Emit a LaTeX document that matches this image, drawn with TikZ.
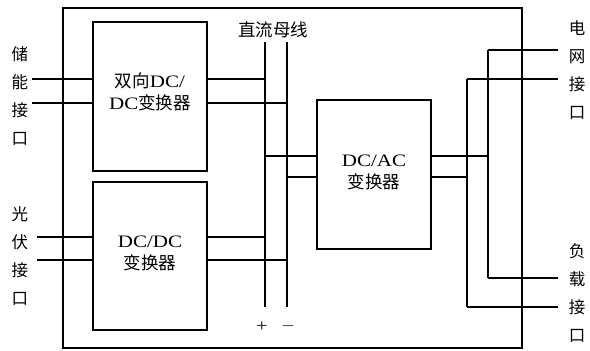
\documentclass[tikz,border=0pt]{standalone}
\usepackage{fontspec}
\setmainfont{Liberation Serif}[FakeStretch=1.2]
\newfontfamily\cjk{Noto Sans CJK SC}
\begin{document}
\begin{tikzpicture}[x=1pt,y=-1pt,line width=1.1pt,
  blk/.style={draw,inner sep=0pt,minimum width=114pt},
  txt/.style={align=center,inner sep=0pt,font=\fontsize{17.5}{22}\selectfont},
  side/.style={align=center,inner sep=0pt,font=\cjk\fontsize{16.5}{27.7}\selectfont},
  pm/.style={inner sep=0pt,font=\fontsize{17}{17}\selectfont}]
\useasboundingbox (0,0) rectangle (590,351);
% outer frame
\node[draw,inner sep=0pt,minimum width=459pt,minimum height=340pt] (outer) at (292.5,178) {};
% converter boxes
\node[blk,minimum height=149pt] (b1) at (150,96.5) {};
\node[blk,minimum height=148pt] (b2) at (150,256) {};
\node[blk,minimum height=149pt] (b3) at (374,174.5) {};
\node[txt] (t1) at (150,92) {{\cjk 双向}DC/\\DC{\cjk 变换器}};
\node[txt] (t2) at (150,253) {DC/DC\\{\cjk 变换器}};
\node[txt] (t3) at (374,172) {DC/AC\\{\cjk 变换器}};
% DC bus
\coordinate (pT) at (265,42); \coordinate (pB) at (265,307);
\coordinate (mT) at (287,42); \coordinate (mB) at (287,307);
\draw (pT) -- (pB);
\draw (mT) -- (mB);
\node[inner sep=0pt,font=\cjk\fontsize{17.5}{18}\selectfont] (bus) at (273,30) {直流母线};
\node[pm] (plus) at (262,327) {+};
\node[pm] (minus) at (288,326) {$-$};
% storage interface
\coordinate (s1) at (32,79); \coordinate (s2) at (32,103);
\draw (s1) -- (b1.west |- s1);
\draw (s2) -- (b1.west |- s2);
\draw (b1.east |- s1) -- (pT |- s1);
\draw (b1.east |- s2) -- (mT |- s2);
\node[side] (ls) at (20,96) {储\\能\\接\\口};
% PV interface
\coordinate (v1) at (37,237); \coordinate (v2) at (37,260);
\draw (v1) -- (b2.west |- v1);
\draw (v2) -- (b2.west |- v2);
\draw (b2.east |- v1) -- (pT |- v1);
\draw (b2.east |- v2) -- (mT |- v2);
\node[side] (lv) at (20,256) {光\\伏\\接\\口};
% bus to DC/AC
\coordinate (a1) at (317,156); \coordinate (a2) at (317,177);
\draw (pT |- a1) -- (b3.west |- a1);
\draw (mT |- a2) -- (b3.west |- a2);
% DC/AC to grid and load
\coordinate (gT) at (488,50); \coordinate (gB) at (488,278);
\coordinate (hT) at (467,79); \coordinate (hB) at (467,307);
\draw (b3.east |- a1) -- (gT |- a1);
\draw (b3.east |- a2) -- (hT |- a2);
\draw (gT) -- (gB);
\draw (hT) -- (hB);
\coordinate (e1) at (558,50); \coordinate (e2) at (558,79);
\coordinate (e3) at (558,278); \coordinate (e4) at (558,307);
\draw (gT) -- (e1);
\draw (hT) -- (e2);
\draw (gB) -- (e3);
\draw (hB) -- (e4);
\node[side] (lg) at (577,70) {电\\网\\接\\口};
\node[side] (ll) at (577,293) {负\\载\\接\\口};
\end{tikzpicture}
\end{document}
